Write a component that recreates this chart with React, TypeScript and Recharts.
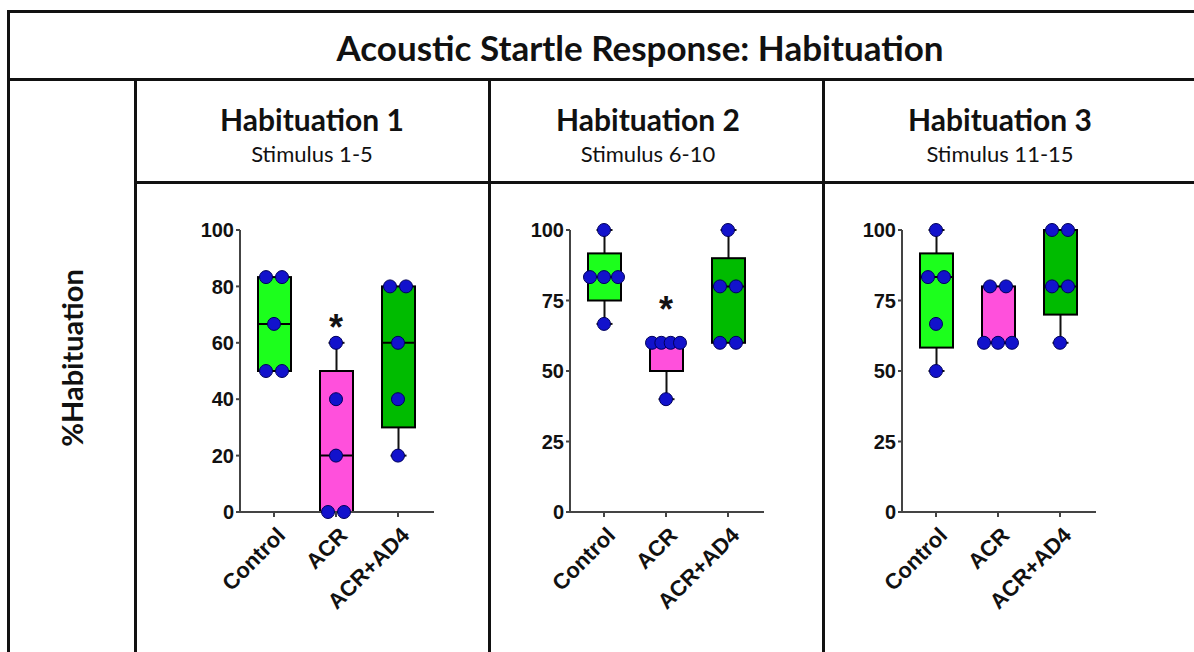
import React from 'react';
import { ComposedChart, Bar, Scatter, XAxis, YAxis } from 'recharts';

const categories = ['Control', 'ACR', 'ACR+AD4'];
const fills = ['#1cff1c', '#ff50dc', '#00bb00'];

// Habituation 1 (stimulus 1-5)
const h1Points = [[83.3, 83.3, 66.7, 50, 50], [60, 40, 20, 0, 0], [80, 80, 60, 40, 20]];
const h1Q1 = [50, 0, 30];
const h1Median = [66.7, 20, 60];
const h1Q3 = [83.3, 50, 80];
const h1Star = [null, 68, null];
const h1Ticks = [0, 20, 40, 60, 80, 100];

// Habituation 2 (stimulus 6-10)
const h2Points = [[100, 83.3, 83.3, 83.3, 66.7], [60, 60, 60, 60, 40], [100, 80, 80, 60, 60]];
const h2Q1 = [75, 50, 60];
const h2Median = [83.3, 60, 80];
const h2Q3 = [91.7, 60, 90];
const h2Star = [null, 74.5, null];
const h2Ticks = [0, 25, 50, 75, 100];

// Habituation 3 (stimulus 11-15)
const h3Points = [[100, 83.3, 83.3, 66.7, 50], [80, 80, 60, 60, 60], [100, 100, 80, 80, 60]];
const h3Q1 = [58.3, 60, 70];
const h3Median = [83.3, 60, 80];
const h3Q3 = [91.7, 80, 100];
const h3Star = [null, null, null];
const h3Ticks = [0, 25, 50, 75, 100];

const BOX_W = 33;
const AXIS = '#444';
const tickFont = { fontFamily: '"Liberation Sans", Arial, sans-serif', fontWeight: 700, fontSize: 20, fill: '#111' };

function buildRows(points: number[][], q1: number[], med: number[], q3: number[], star: (number | null)[]) {
  return categories.map((name, i) => {
    const pts = points[i];
    const row: any = {
      name,
      box: [q1[i], q3[i]],
      range: [Math.min(...pts), Math.max(...pts)],
      median: med[i],
      star: star[i],
      q1: q1[i],
      q3: q3[i],
      color: fills[i],
    };
    pts.forEach((v, j) => {
      const ties = pts.filter((p) => p === v).length;
      const rank = pts.slice(0, j).filter((p) => p === v).length;
      const spacing = ties > 1 ? Math.min(16, 28 / (ties - 1)) : 0;
      row['d' + j] = v;
      row['o' + j] = (rank - (ties - 1) / 2) * spacing;
    });
    return row;
  });
}

const BoxShape = (props: any) => {
  const { x, y, width, height, payload } = props;
  return <rect x={x} y={y} width={width} height={height} fill={payload.color} stroke="#000" strokeWidth={2} />;
};

const WhiskerShape = (props: any) => {
  const { x, y, width, height, payload } = props;
  const cx = x + width / 2;
  const hasTop = payload.range[1] > payload.q3;
  const hasBottom = payload.range[0] < payload.q1;
  return (
    <g stroke="#111" strokeWidth={2}>
      <line x1={cx} x2={cx} y1={y} y2={y + height} />
      {hasTop && <line x1={cx - 8} x2={cx + 8} y1={y} y2={y} />}
      {hasBottom && <line x1={cx - 8} x2={cx + 8} y1={y + height} y2={y + height} />}
    </g>
  );
};

const MedianShape = (props: any) => {
  const { cx, cy } = props;
  if (cy == null || isNaN(cy)) return <g />;
  return <line x1={cx - BOX_W / 2} x2={cx + BOX_W / 2} y1={cy} y2={cy} stroke="#000" strokeWidth={2} />;
};

const StarShape = (props: any) => {
  const { cx, cy, payload } = props;
  if (payload.star == null || cy == null || isNaN(cy)) return <g />;
  return (
    <text x={cx} y={cy + 20} textAnchor="middle" style={{ ...tickFont, fontSize: 36 }} fill="#222">
      *
    </text>
  );
};

const dotShape = (j: number) => (props: any) => {
  const { cx, cy, payload } = props;
  if (cy == null || isNaN(cy)) return <g />;
  return <circle cx={cx + payload['o' + j]} cy={cy} r={6.5} fill="#1212cc" stroke="#00005a" strokeWidth={1} />;
};

const XTick = (props: any) => {
  const { x, y, payload } = props;
  return (
    <text transform={`translate(${x + 1},${y + 6}) rotate(-45)`} textAnchor="end" dy="0.75em" style={{ ...tickFont, fontSize: 22 }}>
      {payload.value}
    </text>
  );
};

function Panel({ left, rows, ticks }: { left: number; rows: any[]; ticks: number[] }) {
  const pad = { left: 3, right: 5 };
  return (
    <div style={{ position: 'absolute', left, top: 200 }}>
      <ComposedChart width={330} height={440} data={rows} margin={{ top: 30, right: 46, left: 30, bottom: 28 }}>
        <XAxis
          xAxisId="main"
          dataKey="name"
          padding={pad}
          height={100}
          axisLine={{ stroke: AXIS, strokeWidth: 2 }}
          tickLine={{ stroke: AXIS, strokeWidth: 2 }}
          tickSize={5}
          tickMargin={2}
          interval={0}
          tick={<XTick />}
        />
        <XAxis xAxisId="w" dataKey="name" padding={pad} hide />
        <YAxis
          domain={[0, 100]}
          ticks={ticks}
          width={60}
          axisLine={{ stroke: AXIS, strokeWidth: 2 }}
          tickLine={{ stroke: AXIS, strokeWidth: 2 }}
          tickSize={4}
          tickMargin={2}
          tick={tickFont}
          interval={0}
        />
        <Bar xAxisId="w" dataKey="range" barSize={BOX_W} shape={<WhiskerShape />} isAnimationActive={false} />
        <Bar xAxisId="main" dataKey="box" barSize={BOX_W} shape={<BoxShape />} isAnimationActive={false} />
        <Scatter xAxisId="main" dataKey="median" shape={<MedianShape />} isAnimationActive={false} />
        {[0, 1, 2, 3, 4].map((j) => (
          <Scatter key={j} xAxisId="main" dataKey={'d' + j} shape={dotShape(j)} isAnimationActive={false} />
        ))}
        <Scatter xAxisId="main" dataKey="star" shape={<StarShape />} isAnimationActive={false} />
      </ComposedChart>
    </div>
  );
}

const line = (l: number, t: number, w: number, h: number) => (
  <div style={{ position: 'absolute', left: l, top: t, width: w, height: h, background: '#111' }} />
);

const headFont = { fontFamily: 'Lato, "Open Sans", sans-serif', color: '#111' };

function Header({ center, title, sub }: { center: number; title: string; sub: string }) {
  return (
    <div style={{ position: 'absolute', left: center - 150, top: 100, width: 300, textAlign: 'center', ...headFont }}>
      <div style={{ fontWeight: 700, fontSize: 30, lineHeight: '38px' }}>{title}</div>
      <div style={{ fontSize: 22, lineHeight: '32px' }}>{sub}</div>
    </div>
  );
}

export default function App() {
  const rows1 = buildRows(h1Points, h1Q1, h1Median, h1Q3, h1Star);
  const rows2 = buildRows(h2Points, h2Q1, h2Median, h2Q3, h2Star);
  const rows3 = buildRows(h3Points, h3Q1, h3Median, h3Q3, h3Star);
  return (
    <div style={{ position: 'absolute', left: 0, top: 0, width: 1194, height: 652, overflow: 'hidden', background: '#fff' }}>
      {line(7, 10, 1187, 3)}
      {line(7, 10, 3, 642)}
      {line(7, 78, 1187, 3)}
      {line(134, 78, 3, 574)}
      {line(134, 181, 1060, 3)}
      {line(488, 78, 3, 574)}
      {line(822, 78, 3, 574)}
      <div style={{ position: 'absolute', left: 140, top: 24, width: 1000, textAlign: 'center', fontWeight: 700, fontSize: 35, lineHeight: '46px', ...headFont }}>
        Acoustic Startle Response: Habituation
      </div>
      <div
        style={{
          position: 'absolute',
          left: 72 - 120,
          top: 358 - 18,
          width: 240,
          height: 36,
          lineHeight: '36px',
          textAlign: 'center',
          transform: 'rotate(-90deg)',
          fontWeight: 700,
          fontSize: 29,
          ...headFont,
        }}
      >
        %Habituation
      </div>
      <Header center={312} title="Habituation 1" sub="Stimulus 1-5" />
      <Header center={648} title="Habituation 2" sub="Stimulus 6-10" />
      <Header center={1000} title="Habituation 3" sub="Stimulus 11-15" />
      <Panel left={150} rows={rows1} ticks={h1Ticks} />
      <Panel left={480} rows={rows2} ticks={h2Ticks} />
      <Panel left={812} rows={rows3} ticks={h3Ticks} />
    </div>
  );
}
